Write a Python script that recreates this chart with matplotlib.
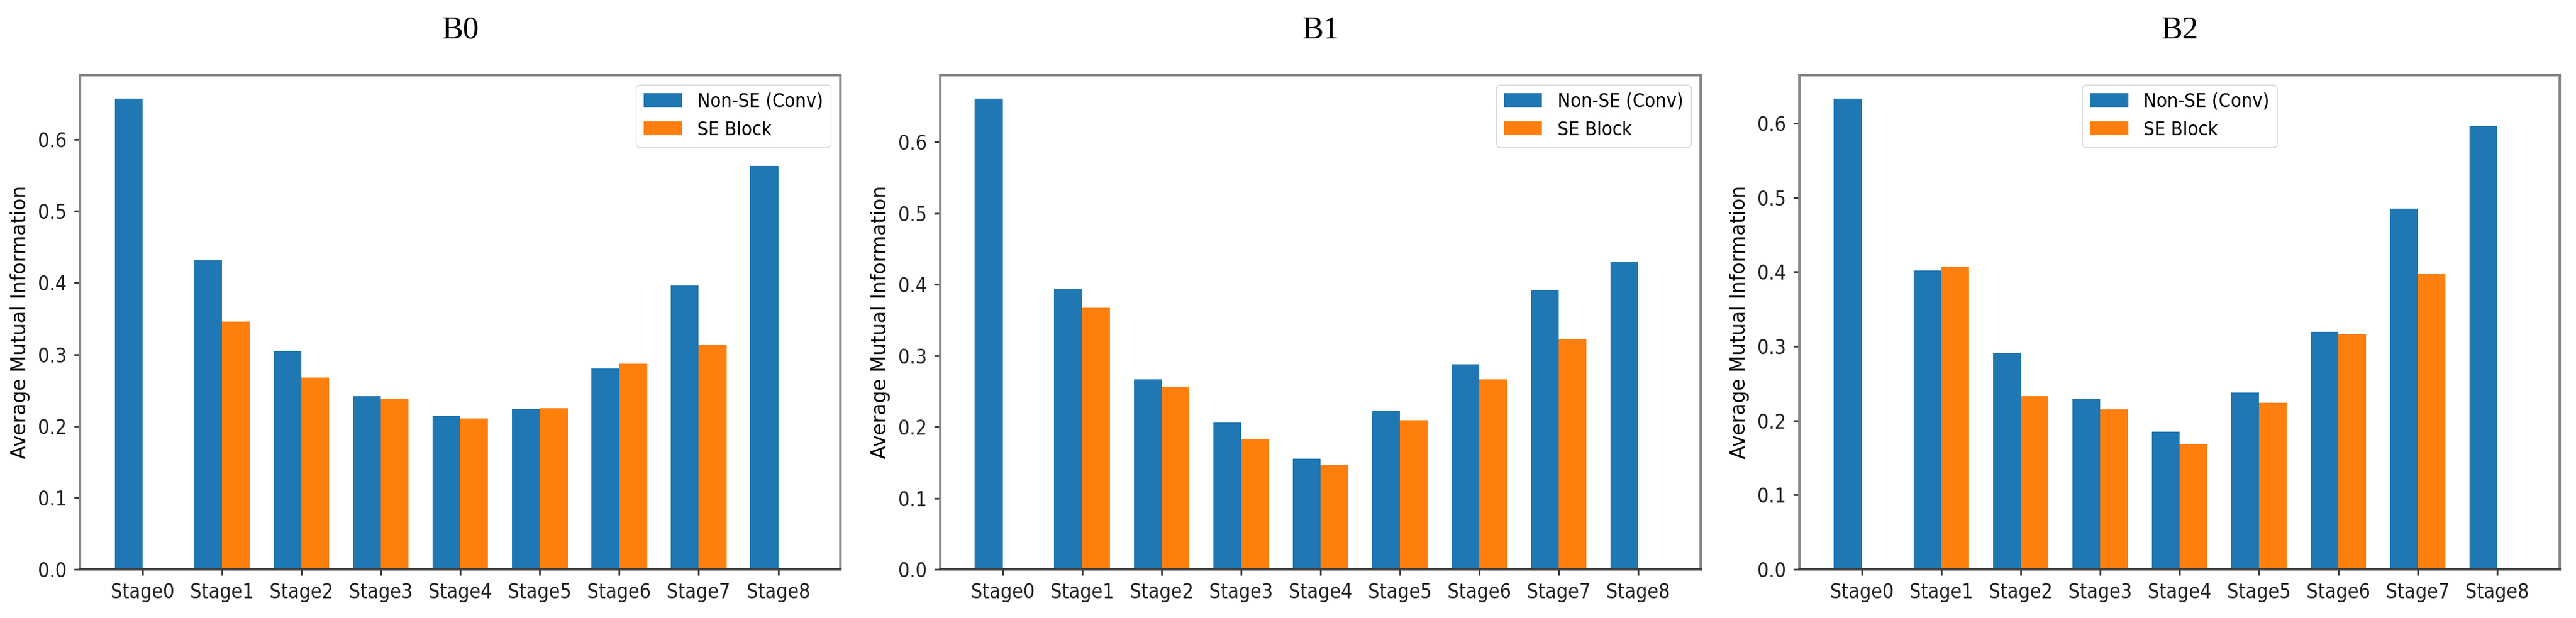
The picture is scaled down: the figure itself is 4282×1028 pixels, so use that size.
import numpy as np
import matplotlib
matplotlib.use("Agg")
import matplotlib.pyplot as plt

stages = ["Stage0", "Stage1", "Stage2", "Stage3", "Stage4",
          "Stage5", "Stage6", "Stage7", "Stage8"]

# average mutual information per stage
b0_conv = [0.657, 0.431, 0.305, 0.242, 0.214, 0.224, 0.280, 0.396, 0.563]
b0_se = [0.0, 0.346, 0.268, 0.238, 0.211, 0.225, 0.287, 0.314, 0.0]

b1_conv = [0.661, 0.394, 0.267, 0.206, 0.155, 0.223, 0.288, 0.392, 0.432]
b1_se = [0.0, 0.367, 0.257, 0.183, 0.147, 0.209, 0.267, 0.323, 0.0]

b2_conv = [0.633, 0.402, 0.291, 0.229, 0.185, 0.238, 0.319, 0.485, 0.596]
b2_se = [0.0, 0.407, 0.233, 0.215, 0.168, 0.224, 0.316, 0.397, 0.0]

titles = ["B0", "B1", "B2"]
legend_locs = ["upper right", "upper right", "upper center"]

plt.rcParams['font.family'] = ['DejaVu Sans']

fig = plt.figure(figsize=(42.82, 10.28), dpi=100)

lefts = [0.0311, 0.3650, 0.6985]
width = 0.2952
bottom = 0.0788
height = 0.7996

x = np.arange(len(stages))
w = 0.35

data = [(b0_conv, b0_se), (b1_conv, b1_se), (b2_conv, b2_se)]

for i, (conv, se) in enumerate(data):
    ax = fig.add_axes([lefts[i], bottom, width, height])
    ax.bar(x - w / 2, conv, w, color='#1f77b4', label='Non-SE (Conv)')
    ax.bar(x + w / 2, se, w, color='#ff7f0e', label='SE Block')
    ax.set_xticks(x)
    ax.set_xticklabels(stages, fontsize=24, fontstretch='condensed')
    for lab in ax.get_yticklabels():
        lab.set_fontsize(24)
        lab.set_fontstretch('condensed')
    ax.set_ylabel("Average Mutual Information", fontsize=23.5)
    ax.yaxis.set_label_coords(-0.066, 0.5)
    ax.set_title(titles[i], fontsize=38, family='Liberation Serif', pad=44)
    ax.tick_params(axis='both', length=7, width=2, pad=9, colors='#333333')
    ax.tick_params(axis='both', labelcolor='#222222')
    for side in ['left', 'right', 'top']:
        ax.spines[side].set_color('#888888')
        ax.spines[side].set_linewidth(3)
    ax.spines['bottom'].set_color('#404040')
    ax.spines['bottom'].set_linewidth(3)
    ax.legend(loc=legend_locs[i], prop={'size': 23, 'stretch': 'condensed'})

fig.savefig("out.png", dpi=100)
